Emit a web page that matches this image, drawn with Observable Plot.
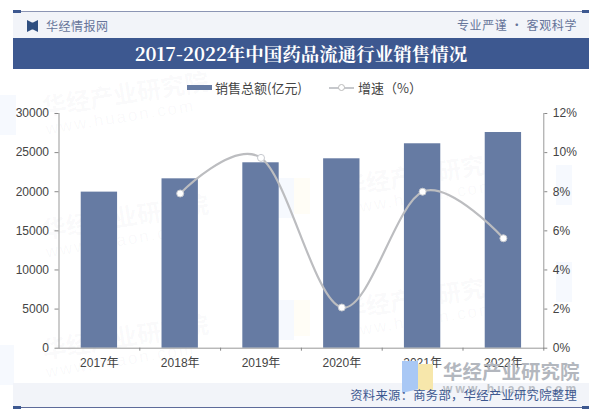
<!DOCTYPE html>
<html><head><meta charset="utf-8">
<script src="https://cdn.jsdelivr.net/npm/d3@7"></script>
<script src="https://cdn.jsdelivr.net/npm/@observablehq/plot@0.6"></script>
<style>
html,body{margin:0;padding:0;background:#fff;width:600px;height:415px;overflow:hidden}
#c{position:absolute;left:0;top:0}
.a{position:absolute;white-space:nowrap}
.wm{position:absolute;white-space:nowrap;transform:rotate(-9deg);transform-origin:left top;color:rgba(110,120,140,.045);font:bold 24px/28px 'Noto Sans CJK SC'}
.wm span{display:block;font:17px/20px 'Liberation Sans';letter-spacing:2px}
</style></head><body>
<div class="a" style="left:0;top:95px;width:16px;height:40px;background:#f6f9fe"></div>
<div class="a" style="left:0;top:345px;width:14px;height:40px;background:#f6f9fe"></div>
<div class="a" style="left:278px;top:178px;width:16px;height:40px;background:#f6f9fe"></div>
<div class="a" style="left:294px;top:178px;width:16px;height:36px;background:#fffdf6"></div>
<div class="a" style="left:278px;top:300px;width:16px;height:40px;background:#f6f9fe"></div>
<div class="a" style="left:294px;top:300px;width:16px;height:36px;background:#fffdf6"></div>
<div class="a" style="left:556px;top:165px;width:16px;height:40px;background:#f6f9fe"></div>
<div class="a" style="left:556px;top:262px;width:16px;height:40px;background:#f6f9fe"></div>
<div class="wm" style="left:40px;top:92px">华经产业研究院<span>www.huaon.com</span></div>
<div class="wm" style="left:40px;top:215px">华经产业研究院<span>www.huaon.com</span></div>
<div class="wm" style="left:40px;top:335px">华经产业研究院<span>www.huaon.com</span></div>
<div class="wm" style="left:340px;top:172px">华经产业研究院<span>www.huaon.com</span></div>
<div class="wm" style="left:340px;top:295px">华经产业研究院<span>www.huaon.com</span></div>
<div class="a" style="left:13px;top:12px;width:576px;height:26px;background:#f2f4f9"></div>
<div class="a" style="left:13px;top:11px;width:576px;height:1px;background:#8c95b4"></div>
<div class="a" style="left:13px;top:10px;width:8px;height:3px;background:#3d5890"></div>
<div class="a" style="left:582px;top:10px;width:7px;height:3px;background:#3d5890"></div>
<div class="a" style="left:13px;top:38px;width:576px;height:31px;background:#3d5890"></div>
<div class="a" style="left:13px;top:383px;width:576px;height:24px;background:#f2f4f9"></div>
<div class="a" style="left:13px;top:407px;width:576px;height:1px;background:#5d6b9a"></div>
<div class="a" style="left:13px;top:406px;width:8px;height:3px;background:#3d5890"></div>
<div class="a" style="left:582px;top:406px;width:7px;height:3px;background:#3d5890"></div>
<div class="a" style="left:27px;top:20px;width:11px;height:12px;background:#2f4f80;clip-path:polygon(0 0,45% 20%,55% 20%,100% 0,100% 100%,55% 80%,45% 80%,0 100%)"></div>
<div class="a" style="left:46px;top:18px;font:12px/16px 'Noto Sans CJK SC';color:#66759a;letter-spacing:.5px">华经情报网</div>
<div class="a" style="right:23px;top:17px;font:12px/16px 'Noto Sans CJK SC';color:#66759a;letter-spacing:.6px">专业严谨 • 客观科学</div>
<div class="a" style="left:13px;width:576px;top:38px;height:31px;text-align:center;font:bold 18.5px/31px 'Noto Serif CJK SC','Noto Sans CJK SC';color:#fff">2017-2022年中国药品流通行业销售情况</div>
<div class="a" style="left:187px;top:85px;width:25px;height:5px;background:#667ba3"></div>
<div class="a" style="left:215px;top:79px;font:13px/17px 'Noto Sans CJK SC';color:#444">销售总额(亿元)</div>
<div class="a" style="left:329px;top:86.5px;width:25px;height:2px;background:#c6c8cc"></div>
<div class="a" style="left:338px;top:84px;width:5px;height:5px;border:1px solid #bbb;border-radius:50%;background:#fff"></div>
<div class="a" style="left:358px;top:79px;font:13px/17px 'Noto Sans CJK SC';color:#444">增速（%）</div>
<div id="c"></div>
<div class="a" style="left:402px;top:361px;width:16px;height:32px;background:#a9c8f5;clip-path:polygon(0 0,100% 0,100% 88%,0 100%)"></div>
<div class="a" style="left:418px;top:364px;width:15px;height:26px;background:#f7e7ab"></div>
<div class="a" style="left:443px;top:359px;font:bold 19.5px/24px 'Noto Sans CJK SC';color:#b3b7be">华经产业研究院</div>
<div class="a" style="left:443px;top:382px;font:bold 12px/14px 'Liberation Sans';color:#b9bdc4;letter-spacing:3.2px">www.huaon.com</div>
<div class="a" style="right:23px;top:387px;font:12.3px/16px 'Noto Sans CJK SC';color:#3d5890;letter-spacing:.3px">资料来源：商务部，华经产业研究院整理</div>
<script>
const years = ["2017年","2018年","2019年","2020年","2021年","2022年"];
const sales = [19950,21650,23700,24210,26130,27570];
const growthYears = ["2018年","2019年","2020年","2021年","2022年"];
const growth = [7.91,9.73,2.08,8.0,5.62];
const leftTicks = [0,5000,10000,15000,20000,25000,30000];
const rightTicks = [0,2,4,6,8,10,12];
const k = 2500;
const font = "'Liberation Sans','Noto Sans CJK SC'";
const plot = Plot.plot({
  width:600,height:415,marginLeft:58.5,marginRight:56.7,marginTop:113,marginBottom:67.3,
  style:{fontFamily:font,fontSize:"12px",color:"#444",background:"transparent"},
  x:{domain:years,paddingInner:0.55,paddingOuter:0.275,round:false,label:null,axis:null},
  y:{domain:[0,30000],label:null,axis:null},
  marks:[
    Plot.barY(d3.zip(years,sales),{x:d=>d[0],y:d=>d[1],fill:"#667ba3"}),
    Plot.frame({anchor:"left",stroke:"#999"}),
    Plot.frame({anchor:"right",stroke:"#999"}),
    Plot.frame({anchor:"bottom",stroke:"#999"}),
    Plot.axisY(leftTicks,{anchor:"left",label:null,tickSize:4,tickPadding:6,stroke:"#888",fill:"#444",fontSize:12,tickFormat:d=>String(d)}),
    Plot.axisY(rightTicks.map(d=>d*k),{anchor:"right",label:null,tickSize:3,tickPadding:6,stroke:"#888",fill:"#444",fontSize:12,tickFormat:d=>d/k+"%"}),
    Plot.axisX(years,{anchor:"bottom",label:null,tickSize:3,dx:40.4,stroke:"#888",fill:"none"}),
    Plot.axisX(years,{anchor:"bottom",label:null,tickSize:0,tickPadding:10,fill:"#444",fontSize:12}),
    Plot.lineY(d3.zip(growthYears,growth),{x:d=>d[0],y:d=>d[1]*k,stroke:"#bcbdc0",strokeWidth:2.2,curve:"cardinal",tension:0}),
    Plot.dot(d3.zip(growthYears,growth),{x:d=>d[0],y:d=>d[1]*k,r:3.5,fill:"#fff",stroke:"#c6c9cf",strokeWidth:1})
  ]
});
document.getElementById("c").append(plot);
</script>
</body></html>
